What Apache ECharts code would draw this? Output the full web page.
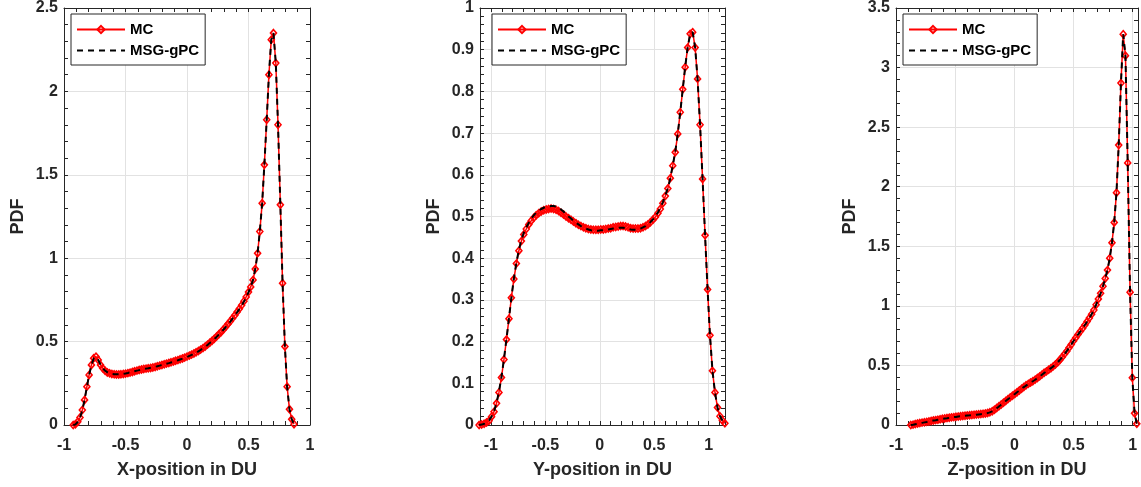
<!DOCTYPE html>
<html><head><meta charset="utf-8">
<script src="https://cdn.jsdelivr.net/npm/echarts@6/dist/echarts.min.js"></script>
<style>html,body{margin:0;padding:0;background:#fff}#c{width:1141px;height:487px}</style>
</head><body><div id="c"></div>
<script>
// ---------- Panel 1: X-position ----------
const xPosX = [-0.925,-0.907,-0.888,-0.870,-0.851,-0.833,-0.814,-0.796,-0.777,-0.759,
-0.740,-0.722,-0.703,-0.685,-0.666,-0.648,-0.629,-0.611,-0.592,-0.574,
-0.555,-0.537,-0.518,-0.500,-0.481,-0.463,-0.444,-0.426,-0.407,-0.389,
-0.370,-0.352,-0.333,-0.315,-0.296,-0.278,-0.259,-0.241,-0.222,-0.204,
-0.185,-0.167,-0.148,-0.130,-0.111,-0.093,-0.074,-0.056,-0.037,-0.019,
0.000,0.019,0.037,0.056,0.074,0.093,0.111,0.130,0.148,0.167,
0.185,0.204,0.222,0.241,0.259,0.278,0.296,0.315,0.333,0.352,
0.370,0.389,0.407,0.426,0.444,0.463,0.481,0.500,0.518,0.537,
0.555,0.574,0.592,0.611,0.629,0.648,0.666,0.685,0.703,0.722,
0.740,0.759,0.777,0.796,0.814,0.833,0.851,0.870];
const pdfXMC = [0.000,0.005,0.020,0.045,0.090,0.150,0.230,0.300,0.360,0.400,
0.410,0.390,0.360,0.340,0.325,0.315,0.310,0.306,0.304,0.303,
0.303,0.304,0.306,0.308,0.311,0.314,0.318,0.322,0.326,0.330,
0.333,0.336,0.338,0.340,0.342,0.345,0.348,0.352,0.356,0.360,
0.364,0.368,0.372,0.376,0.380,0.385,0.389,0.394,0.399,0.404,
0.410,0.416,0.422,0.429,0.436,0.444,0.452,0.461,0.471,0.482,
0.493,0.505,0.517,0.530,0.544,0.558,0.573,0.589,0.605,0.622,
0.640,0.658,0.677,0.697,0.718,0.742,0.768,0.797,0.828,0.870,
0.935,1.030,1.160,1.330,1.560,1.830,2.100,2.310,2.350,2.170,
1.800,1.320,0.850,0.470,0.230,0.095,0.035,0.005];
const pdfXGPC = [0.000,0.004,0.018,0.044,0.088,0.150,0.228,0.300,0.358,0.398,
0.408,0.390,0.362,0.340,0.326,0.316,0.310,0.306,0.304,0.304,
0.304,0.305,0.307,0.309,0.312,0.315,0.318,0.322,0.326,0.329,
0.332,0.335,0.338,0.340,0.343,0.346,0.349,0.352,0.356,0.360,
0.364,0.367,0.371,0.375,0.379,0.384,0.388,0.393,0.398,0.403,
0.408,0.414,0.420,0.427,0.434,0.442,0.450,0.459,0.469,0.480,
0.491,0.503,0.515,0.528,0.542,0.556,0.571,0.587,0.603,0.620,
0.638,0.656,0.675,0.695,0.716,0.740,0.766,0.795,0.828,0.870,
0.935,1.030,1.160,1.330,1.560,1.830,2.100,2.310,2.350,2.170,
1.800,1.320,0.850,0.470,0.230,0.095,0.035,0.005];

// ---------- Panel 2: Y-position ----------
const yPosY = [-1.108,-1.085,-1.062,-1.040,-1.017,-0.994,-0.971,-0.948,-0.926,-0.903,
-0.880,-0.857,-0.834,-0.812,-0.789,-0.766,-0.743,-0.720,-0.698,-0.675,
-0.652,-0.629,-0.606,-0.584,-0.561,-0.538,-0.515,-0.492,-0.470,-0.447,
-0.424,-0.401,-0.378,-0.356,-0.333,-0.310,-0.287,-0.264,-0.242,-0.219,
-0.196,-0.173,-0.150,-0.128,-0.105,-0.082,-0.059,-0.036,-0.014,0.009,
0.032,0.055,0.078,0.100,0.123,0.146,0.169,0.192,0.214,0.237,
0.260,0.283,0.306,0.328,0.351,0.374,0.397,0.420,0.442,0.465,
0.488,0.511,0.534,0.556,0.579,0.602,0.625,0.648,0.670,0.693,
0.716,0.739,0.762,0.784,0.807,0.830,0.853,0.876,0.898,0.921,
0.944,0.967,0.990,1.012,1.035,1.058,1.081,1.104,1.126,1.149];
const pdfYMC = [0.000,0.001,0.003,0.006,0.010,0.020,0.032,0.052,0.078,0.114,
0.157,0.205,0.255,0.305,0.350,0.387,0.418,0.441,0.457,0.470,
0.481,0.490,0.497,0.503,0.508,0.512,0.515,0.517,0.518,0.519,
0.518,0.516,0.513,0.509,0.505,0.500,0.496,0.492,0.488,0.484,
0.480,0.477,0.474,0.472,0.470,0.469,0.468,0.468,0.468,0.469,
0.469,0.470,0.471,0.472,0.474,0.475,0.476,0.477,0.477,0.476,
0.474,0.472,0.471,0.471,0.471,0.472,0.474,0.477,0.481,0.486,
0.492,0.499,0.508,0.518,0.532,0.549,0.567,0.592,0.622,0.654,
0.698,0.750,0.805,0.858,0.905,0.938,0.942,0.905,0.830,0.720,
0.590,0.455,0.325,0.215,0.130,0.078,0.042,0.021,0.011,0.004];
const pdfYGPC = [0.000,0.001,0.003,0.006,0.011,0.020,0.033,0.053,0.080,0.115,
0.158,0.206,0.256,0.305,0.351,0.389,0.420,0.444,0.461,0.474,
0.485,0.495,0.503,0.509,0.514,0.518,0.521,0.523,0.524,0.525,
0.525,0.524,0.521,0.517,0.512,0.506,0.500,0.495,0.490,0.485,
0.481,0.477,0.474,0.471,0.469,0.467,0.466,0.466,0.466,0.467,
0.467,0.468,0.469,0.470,0.471,0.472,0.473,0.473,0.473,0.472,
0.471,0.469,0.468,0.468,0.469,0.471,0.474,0.477,0.481,0.487,
0.493,0.501,0.510,0.521,0.534,0.550,0.568,0.592,0.622,0.655,
0.698,0.750,0.805,0.858,0.905,0.938,0.942,0.905,0.830,0.720,
0.590,0.455,0.325,0.215,0.130,0.078,0.042,0.021,0.011,0.004];

// ---------- Panel 3: Z-position ----------
const zPosZ = [-0.875,-0.856,-0.837,-0.818,-0.799,-0.780,-0.760,-0.741,-0.722,-0.703,
-0.684,-0.665,-0.646,-0.627,-0.608,-0.589,-0.569,-0.550,-0.531,-0.512,
-0.493,-0.474,-0.455,-0.436,-0.417,-0.398,-0.378,-0.359,-0.340,-0.321,
-0.302,-0.283,-0.264,-0.245,-0.226,-0.207,-0.187,-0.168,-0.149,-0.130,
-0.111,-0.092,-0.073,-0.054,-0.035,-0.016,0.004,0.023,0.042,0.061,
0.080,0.099,0.118,0.137,0.156,0.176,0.195,0.214,0.233,0.252,
0.271,0.290,0.309,0.328,0.347,0.367,0.386,0.405,0.424,0.443,
0.462,0.481,0.500,0.519,0.538,0.558,0.577,0.596,0.615,0.634,
0.653,0.672,0.691,0.710,0.729,0.749,0.768,0.787,0.806,0.825,
0.844,0.863,0.882,0.901,0.920,0.939,0.958,0.978,0.997,1.016,1.035];
const pdfZMC = [0.000,0.003,0.008,0.012,0.016,0.020,0.023,0.026,0.030,0.034,
0.038,0.041,0.044,0.048,0.052,0.055,0.058,0.061,0.064,0.066,
0.069,0.071,0.074,0.076,0.078,0.080,0.082,0.084,0.086,0.088,
0.090,0.092,0.094,0.097,0.101,0.107,0.116,0.128,0.142,0.157,
0.172,0.187,0.202,0.217,0.232,0.246,0.260,0.275,0.290,0.305,
0.319,0.333,0.345,0.356,0.368,0.381,0.394,0.408,0.423,0.438,
0.450,0.463,0.477,0.492,0.508,0.527,0.548,0.570,0.595,0.620,
0.648,0.675,0.706,0.733,0.760,0.786,0.812,0.840,0.868,0.898,
0.930,0.965,1.010,1.058,1.105,1.165,1.230,1.300,1.400,1.530,
1.700,1.950,2.350,2.870,3.280,3.100,2.200,1.115,0.396,0.098,0.010];
const pdfZGPC = [0.000,0.002,0.006,0.010,0.014,0.018,0.022,0.025,0.029,0.033,
0.037,0.040,0.044,0.047,0.051,0.054,0.057,0.060,0.063,0.066,
0.068,0.071,0.073,0.075,0.077,0.079,0.081,0.083,0.085,0.087,
0.089,0.091,0.093,0.096,0.100,0.106,0.115,0.127,0.141,0.156,
0.171,0.186,0.201,0.216,0.231,0.246,0.260,0.275,0.290,0.304,
0.318,0.331,0.343,0.355,0.367,0.380,0.393,0.407,0.422,0.437,
0.450,0.463,0.477,0.492,0.508,0.527,0.548,0.570,0.595,0.620,
0.647,0.674,0.705,0.732,0.759,0.785,0.811,0.839,0.867,0.897,
0.930,0.965,1.010,1.058,1.105,1.165,1.230,1.300,1.400,1.530,
1.700,1.950,2.350,2.870,3.280,3.100,2.200,1.115,0.396,0.098,0.010];

const seriesNames = ['MC', 'MSG-gPC'];
const xAxisNames = ['X-position in DU', 'Y-position in DU', 'Z-position in DU'];
const yAxisName = 'PDF';

const FONT = 'Liberation Sans, Arial, sans-serif';
const AX = '#262626';
const GRIDC = '#e2e2e2';

const panels = [
  {left: 64,  width: 246, legLeft: 71,  xmin: -1,   xmax: 1,     xInt: 0.5, ymax: 2.5, yInt: 0.5, yMinor: 0.1,  x: xPosX, mc: pdfXMC, gpc: pdfXGPC},
  {left: 480, width: 245, legLeft: 492, xmin: -1.1, xmax: 1.15,  xInt: null, ymax: 1,  yInt: 0.1, yMinor: 0.02, x: yPosY, mc: pdfYMC, gpc: pdfYGPC},
  {left: 896, width: 246, legLeft: 903, xmin: -1,   xmax: 1.045, xInt: 0.5, ymax: 3.5, yInt: 0.5, yMinor: 0.1,  x: zPosZ, mc: pdfZMC, gpc: pdfZGPC}
];

const grids = [], xAxes = [], yAxes = [], series = [], legends = [];
const labelStyle = {color: AX, fontWeight: 'bold', fontSize: 16, fontFamily: FONT};
const nameStyle = {color: AX, fontWeight: 'bold', fontSize: 18, fontFamily: FONT};

panels.forEach((p, g) => {
  grids.push({left: p.left, top: 7, width: p.width, height: 418, containLabel: false});
  const mx = {
    gridIndex: g, type: 'value', min: p.xmin, max: p.xmax, position: 'bottom',
    axisLine: {show: false}, axisTick: {show: false},
    splitLine: {show: true, lineStyle: {color: GRIDC, width: 1}},
    axisLabel: Object.assign({margin: 13, formatter: v => {
      const r = Math.round(v * 2) / 2;
      if (Math.abs(r - v) > 1e-6) return '';
      return String(Math.round(v * 10) / 10);
    }}, labelStyle),
    name: xAxisNames[g], nameLocation: 'middle', nameGap: 36, nameTextStyle: nameStyle
  };
  if (p.xInt) mx.interval = p.xInt;
  xAxes.push(mx);
  ['bottom', 'top'].forEach(pos => xAxes.push({
    gridIndex: g, type: 'value', min: p.xmin, max: p.xmax, interval: 0.1, position: pos,
    axisLine: {show: true, onZero: false, lineStyle: {color: AX, width: 1}},
    axisTick: {show: true, inside: true, length: 4, lineStyle: {color: AX, width: 1}},
    axisLabel: {show: false}, splitLine: {show: false}
  }));
  yAxes.push({
    gridIndex: g, type: 'value', min: 0, max: p.ymax, interval: p.yInt, position: 'left',
    axisLine: {show: false}, axisTick: {show: false},
    splitLine: {show: true, lineStyle: {color: GRIDC, width: 1}},
    axisLabel: Object.assign({margin: 6}, labelStyle),
    name: yAxisName, nameLocation: 'middle', nameGap: 37, nameTextStyle: nameStyle
  });
  ['left', 'right'].forEach(pos => yAxes.push({
    gridIndex: g, type: 'value', min: 0, max: p.ymax, interval: p.yMinor, position: pos,
    axisLine: {show: true, onZero: false, lineStyle: {color: AX, width: 1}},
    axisTick: {show: true, inside: true, length: 4, lineStyle: {color: AX, width: 1}},
    axisLabel: {show: false}, splitLine: {show: false}
  }));
  const ai = g * 3;
  series.push({
    name: seriesNames[0], type: 'line', xAxisIndex: ai, yAxisIndex: ai,
    data: p.x.map((xv, i) => [xv, p.mc[i]]),
    symbol: 'diamond', symbolSize: [6, 7], showSymbol: true, clip: false,
    lineStyle: {color: '#ff0000', width: 1.5},
    itemStyle: {color: 'rgba(255,255,255,0)', borderColor: '#ff0000', borderWidth: 1.6},
    emphasis: {disabled: true}, animation: false, z: 3
  });
  series.push({
    name: seriesNames[1], type: 'line', xAxisIndex: ai, yAxisIndex: ai,
    data: p.x.map((xv, i) => [xv, p.gpc[i]]),
    symbol: 'none', clip: false,
    lineStyle: {color: '#000000', width: 2, type: [6, 5]},
    itemStyle: {color: '#000000'},
    emphasis: {disabled: true}, animation: false, z: 4
  });
  legends.push({
    left: p.legLeft, top: 14, orient: 'vertical',
    data: [
      {name: seriesNames[0]},
      {name: seriesNames[1], itemStyle: {opacity: 0}}
    ],
    backgroundColor: '#ffffff', borderColor: AX, borderWidth: 1, borderRadius: 0,
    padding: [8, 6, 7, 5], itemWidth: 48, itemHeight: 9, itemGap: 6,
    selectedMode: false,
    textStyle: {fontSize: 15, fontWeight: 'bold', color: '#000', fontFamily: FONT}
  });
});

const chart = echarts.init(document.getElementById('c'), null, {renderer: 'canvas'});
chart.setOption({
  animation: false,
  backgroundColor: '#ffffff',
  textStyle: {fontFamily: FONT},
  grid: grids, xAxis: xAxes, yAxis: yAxes, series: series, legend: legends
});
</script></body></html>
